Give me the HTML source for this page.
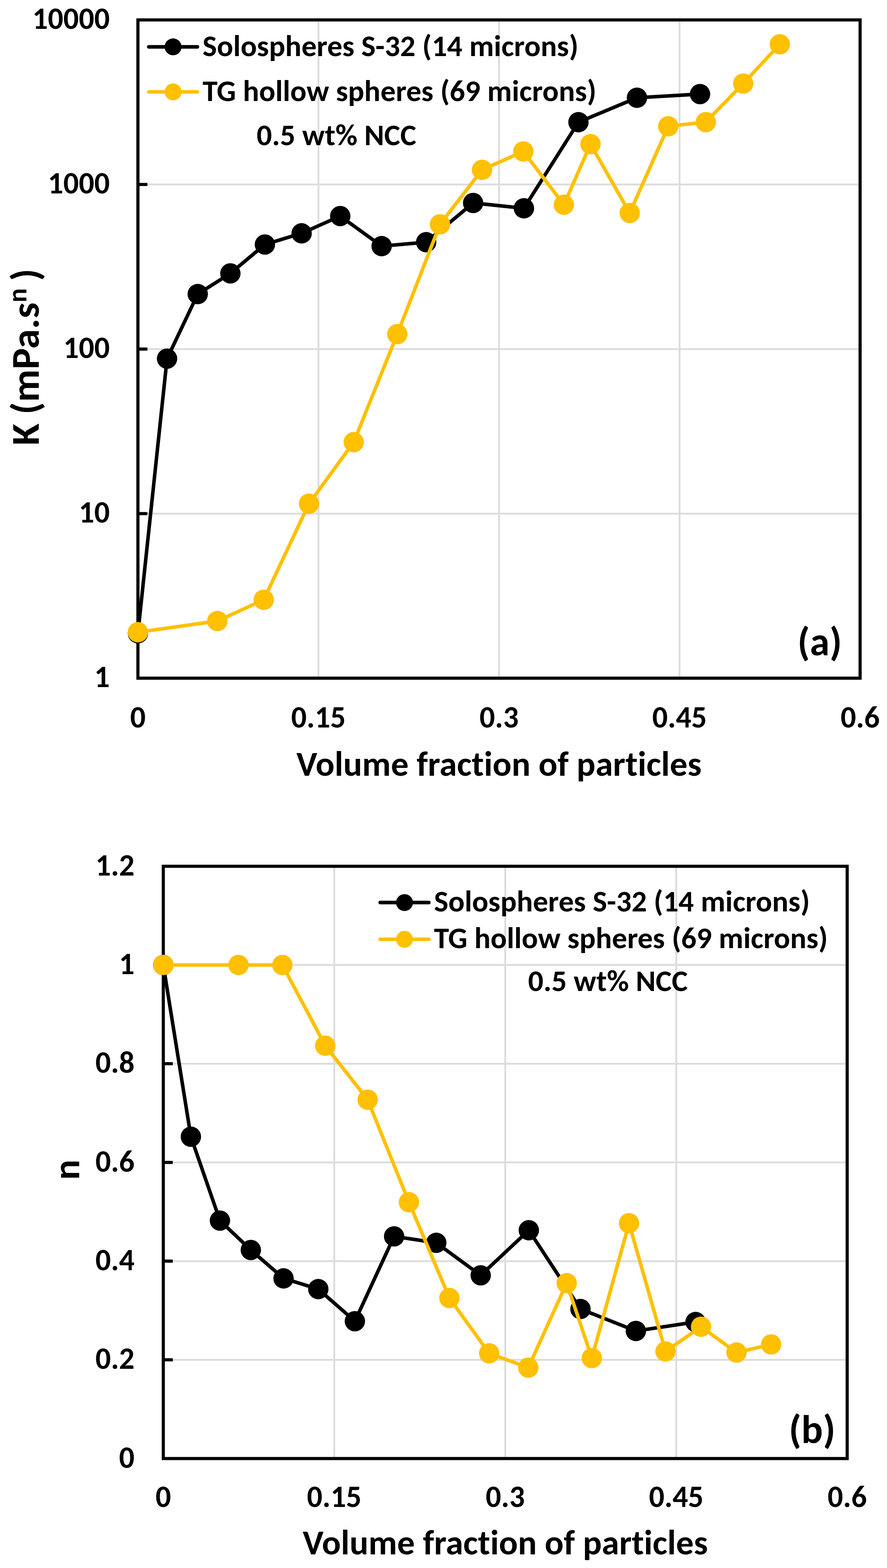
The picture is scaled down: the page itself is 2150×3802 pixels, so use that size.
<!DOCTYPE html>
<html><head><meta charset="utf-8"><title>K and n vs volume fraction</title>
<style>html,body{margin:0;padding:0;background:#fff;}body{width:2150px;height:3802px;overflow:hidden;}svg{display:block;}text{font-variant-ligatures:none;font-feature-settings:'liga' 0,'clig' 0;}</style>
</head><body>
<svg width="2150" height="3802" viewBox="0 0 2150 3802">
<rect width="2150" height="3802" fill="#fff"/>
<g font-family="Carlito, 'Liberation Sans', sans-serif" font-weight="bold" fill="#000">
<line x1="771.9" y1="48.3" x2="771.9" y2="1644.4" stroke="#DCDCDC" stroke-width="4.5"/>
<line x1="1209.6" y1="48.3" x2="1209.6" y2="1644.4" stroke="#DCDCDC" stroke-width="4.5"/>
<line x1="1647.2" y1="48.3" x2="1647.2" y2="1644.4" stroke="#DCDCDC" stroke-width="4.5"/>
<line x1="334.3" y1="447.3" x2="2084.8" y2="447.3" stroke="#DCDCDC" stroke-width="4.5"/>
<line x1="334.3" y1="846.4" x2="2084.8" y2="846.4" stroke="#DCDCDC" stroke-width="4.5"/>
<line x1="334.3" y1="1245.4" x2="2084.8" y2="1245.4" stroke="#DCDCDC" stroke-width="4.5"/>
<rect x="334.3" y="48.3" width="1750.5" height="1596.1" fill="none" stroke="#000" stroke-width="7.6"/>
<line x1="334.3" y1="447.3" x2="357.3" y2="447.3" stroke="#000" stroke-width="7.6"/>
<line x1="334.3" y1="846.4" x2="357.3" y2="846.4" stroke="#000" stroke-width="7.6"/>
<line x1="334.3" y1="1245.4" x2="357.3" y2="1245.4" stroke="#000" stroke-width="7.6"/>
<polyline points="334.3,1535.5 404.9,869.6 479.3,713.0 558.4,662.9 642.1,592.9 731.1,565.7 824.7,523.9 925.1,596.8 1033.0,587.3 1146.8,492.1 1269.9,505.0 1402.1,296.2 1543.9,237.0 1696.8,228.1" fill="none" stroke="#000" stroke-width="8.6" stroke-linejoin="round" stroke-linecap="round"/>
<circle cx="334.3" cy="1535.5" r="24.7" fill="#000"/>
<circle cx="404.9" cy="869.6" r="24.7" fill="#000"/>
<circle cx="479.3" cy="713.0" r="24.7" fill="#000"/>
<circle cx="558.4" cy="662.9" r="24.7" fill="#000"/>
<circle cx="642.1" cy="592.9" r="24.7" fill="#000"/>
<circle cx="731.1" cy="565.7" r="24.7" fill="#000"/>
<circle cx="824.7" cy="523.9" r="24.7" fill="#000"/>
<circle cx="925.1" cy="596.8" r="24.7" fill="#000"/>
<circle cx="1033.0" cy="587.3" r="24.7" fill="#000"/>
<circle cx="1146.8" cy="492.1" r="24.7" fill="#000"/>
<circle cx="1269.9" cy="505.0" r="24.7" fill="#000"/>
<circle cx="1402.1" cy="296.2" r="24.7" fill="#000"/>
<circle cx="1543.9" cy="237.0" r="24.7" fill="#000"/>
<circle cx="1696.8" cy="228.1" r="24.7" fill="#000"/>
<polyline points="334.3,1533.0 526.9,1505.8 639.2,1454.3 748.9,1221.2 857.4,1072.1 963.0,810.2 1066.6,543.9 1168.4,411.8 1268.5,367.2 1366.8,496.4 1431.3,349.5 1526.4,516.5 1619.8,306.2 1710.8,296.1 1801.5,202.6 1890.2,107.4" fill="none" stroke="#FFC000" stroke-width="8.6" stroke-linejoin="round" stroke-linecap="round"/>
<circle cx="334.3" cy="1533.0" r="24.7" fill="#FFC000"/>
<circle cx="526.9" cy="1505.8" r="24.7" fill="#FFC000"/>
<circle cx="639.2" cy="1454.3" r="24.7" fill="#FFC000"/>
<circle cx="748.9" cy="1221.2" r="24.7" fill="#FFC000"/>
<circle cx="857.4" cy="1072.1" r="24.7" fill="#FFC000"/>
<circle cx="963.0" cy="810.2" r="24.7" fill="#FFC000"/>
<circle cx="1066.6" cy="543.9" r="24.7" fill="#FFC000"/>
<circle cx="1168.4" cy="411.8" r="24.7" fill="#FFC000"/>
<circle cx="1268.5" cy="367.2" r="24.7" fill="#FFC000"/>
<circle cx="1366.8" cy="496.4" r="24.7" fill="#FFC000"/>
<circle cx="1431.3" cy="349.5" r="24.7" fill="#FFC000"/>
<circle cx="1526.4" cy="516.5" r="24.7" fill="#FFC000"/>
<circle cx="1619.8" cy="306.2" r="24.7" fill="#FFC000"/>
<circle cx="1710.8" cy="296.1" r="24.7" fill="#FFC000"/>
<circle cx="1801.5" cy="202.6" r="24.7" fill="#FFC000"/>
<circle cx="1890.2" cy="107.4" r="24.7" fill="#FFC000"/>
<line x1="360.5" y1="113.6" x2="478.5" y2="113.6" stroke="#000" stroke-width="8.6" stroke-linecap="round"/>
<circle cx="419.5" cy="113.6" r="20.5" fill="#000"/>
<line x1="360.5" y1="222.8" x2="478.5" y2="222.8" stroke="#FFC000" stroke-width="8.6" stroke-linecap="round"/>
<circle cx="419.5" cy="222.8" r="20.5" fill="#FFC000"/>
<text x="266.0" y="70.3" font-size="74" text-anchor="end" textLength="187.53" lengthAdjust="spacingAndGlyphs">10000</text>
<text x="266.0" y="469.3" font-size="74" text-anchor="end" textLength="150.03" lengthAdjust="spacingAndGlyphs">1000</text>
<text x="266.0" y="868.4" font-size="74" text-anchor="end" textLength="112.53" lengthAdjust="spacingAndGlyphs">100</text>
<text x="266.0" y="1267.4" font-size="74" text-anchor="end" textLength="75.02" lengthAdjust="spacingAndGlyphs">10</text>
<text x="266.0" y="1666.4" font-size="74" text-anchor="end" textLength="37.52" lengthAdjust="spacingAndGlyphs">1</text>
<text x="334.3" y="1763.5" font-size="74" text-anchor="middle" textLength="37.52" lengthAdjust="spacingAndGlyphs">0</text>
<text x="771.9" y="1763.5" font-size="74" text-anchor="middle" textLength="132.30" lengthAdjust="spacingAndGlyphs">0.15</text>
<text x="1209.6" y="1763.5" font-size="74" text-anchor="middle" textLength="94.78" lengthAdjust="spacingAndGlyphs">0.3</text>
<text x="1647.2" y="1763.5" font-size="74" text-anchor="middle" textLength="132.30" lengthAdjust="spacingAndGlyphs">0.45</text>
<text x="2084.8" y="1763.5" font-size="74" text-anchor="middle" textLength="94.78" lengthAdjust="spacingAndGlyphs">0.6</text>
<text x="491.0" y="135.5" font-size="73.4" text-anchor="start" textLength="911.02" lengthAdjust="spacingAndGlyphs">Solospheres S-32 (14 microns)</text>
<text x="491.0" y="244.6" font-size="73.4" text-anchor="start" textLength="954.69" lengthAdjust="spacingAndGlyphs">TG hollow spheres (69 microns)</text>
<text x="622.0" y="351.5" font-size="73.4" text-anchor="start" textLength="387.06" lengthAdjust="spacingAndGlyphs">0.5 wt% NCC</text>
<text x="1209.5" y="1881.0" font-size="85.5" text-anchor="middle" textLength="982.12" lengthAdjust="spacingAndGlyphs">Volume fraction of particles</text>
<text x="1933.0" y="1588.8" font-size="96.5" text-anchor="start" textLength="107.77" lengthAdjust="spacingAndGlyphs">(a)</text>
<g transform="translate(93.8,1080) rotate(-90)"><text x="0" y="0" font-size="96" textLength="346.75" lengthAdjust="spacingAndGlyphs">K (mPa.s</text><text x="346.75" y="-30" font-size="64" textLength="34.34" lengthAdjust="spacingAndGlyphs">n</text><text x="398.8" y="0" font-size="96" textLength="29.91" lengthAdjust="spacingAndGlyphs">)</text></g>
<line x1="810.2" y1="2100.5" x2="810.2" y2="3536.6" stroke="#DCDCDC" stroke-width="4.5"/>
<line x1="1224.7" y1="2100.5" x2="1224.7" y2="3536.6" stroke="#DCDCDC" stroke-width="4.5"/>
<line x1="1639.1" y1="2100.5" x2="1639.1" y2="3536.6" stroke="#DCDCDC" stroke-width="4.5"/>
<line x1="395.8" y1="2339.8" x2="2053.5" y2="2339.8" stroke="#DCDCDC" stroke-width="4.5"/>
<line x1="395.8" y1="2579.2" x2="2053.5" y2="2579.2" stroke="#DCDCDC" stroke-width="4.5"/>
<line x1="395.8" y1="2818.6" x2="2053.5" y2="2818.6" stroke="#DCDCDC" stroke-width="4.5"/>
<line x1="395.8" y1="3057.9" x2="2053.5" y2="3057.9" stroke="#DCDCDC" stroke-width="4.5"/>
<line x1="395.8" y1="3297.2" x2="2053.5" y2="3297.2" stroke="#DCDCDC" stroke-width="4.5"/>
<rect x="395.8" y="2100.5" width="1657.7" height="1436.1" fill="none" stroke="#000" stroke-width="7.6"/>
<line x1="395.8" y1="2339.8" x2="418.8" y2="2339.8" stroke="#000" stroke-width="7.6"/>
<line x1="395.8" y1="2579.2" x2="418.8" y2="2579.2" stroke="#000" stroke-width="7.6"/>
<line x1="395.8" y1="2818.6" x2="418.8" y2="2818.6" stroke="#000" stroke-width="7.6"/>
<line x1="395.8" y1="3057.9" x2="418.8" y2="3057.9" stroke="#000" stroke-width="7.6"/>
<line x1="395.8" y1="3297.2" x2="418.8" y2="3297.2" stroke="#000" stroke-width="7.6"/>
<polyline points="395.8,2339.8 462.7,2756.3 533.1,2959.6 608.0,3030.9 687.3,3099.7 771.5,3125.7 860.2,3203.6 955.3,2997.9 1057.5,3013.5 1165.2,3092.4 1281.8,2983.0 1407.0,3174.0 1541.3,3227.2 1686.0,3205.5" fill="none" stroke="#000" stroke-width="8.6" stroke-linejoin="round" stroke-linecap="round"/>
<circle cx="395.8" cy="2339.8" r="24.7" fill="#000"/>
<circle cx="462.7" cy="2756.3" r="24.7" fill="#000"/>
<circle cx="533.1" cy="2959.6" r="24.7" fill="#000"/>
<circle cx="608.0" cy="3030.9" r="24.7" fill="#000"/>
<circle cx="687.3" cy="3099.7" r="24.7" fill="#000"/>
<circle cx="771.5" cy="3125.7" r="24.7" fill="#000"/>
<circle cx="860.2" cy="3203.6" r="24.7" fill="#000"/>
<circle cx="955.3" cy="2997.9" r="24.7" fill="#000"/>
<circle cx="1057.5" cy="3013.5" r="24.7" fill="#000"/>
<circle cx="1165.2" cy="3092.4" r="24.7" fill="#000"/>
<circle cx="1281.8" cy="2983.0" r="24.7" fill="#000"/>
<circle cx="1407.0" cy="3174.0" r="24.7" fill="#000"/>
<circle cx="1541.3" cy="3227.2" r="24.7" fill="#000"/>
<circle cx="1686.0" cy="3205.5" r="24.7" fill="#000"/>
<polyline points="395.8,2339.8 578.1,2339.8 684.5,2339.8 788.4,2535.5 891.2,2666.5 991.2,2915.0 1089.3,3147.4 1185.7,3281.5 1280.5,3316.1 1373.6,3111.3 1434.6,3293.0 1524.7,2966.0 1613.1,3276.9 1699.3,3217.0 1785.2,3279.5 1869.2,3259.9" fill="none" stroke="#FFC000" stroke-width="8.6" stroke-linejoin="round" stroke-linecap="round"/>
<circle cx="395.8" cy="2339.8" r="24.7" fill="#FFC000"/>
<circle cx="578.1" cy="2339.8" r="24.7" fill="#FFC000"/>
<circle cx="684.5" cy="2339.8" r="24.7" fill="#FFC000"/>
<circle cx="788.4" cy="2535.5" r="24.7" fill="#FFC000"/>
<circle cx="891.2" cy="2666.5" r="24.7" fill="#FFC000"/>
<circle cx="991.2" cy="2915.0" r="24.7" fill="#FFC000"/>
<circle cx="1089.3" cy="3147.4" r="24.7" fill="#FFC000"/>
<circle cx="1185.7" cy="3281.5" r="24.7" fill="#FFC000"/>
<circle cx="1280.5" cy="3316.1" r="24.7" fill="#FFC000"/>
<circle cx="1373.6" cy="3111.3" r="24.7" fill="#FFC000"/>
<circle cx="1434.6" cy="3293.0" r="24.7" fill="#FFC000"/>
<circle cx="1524.7" cy="2966.0" r="24.7" fill="#FFC000"/>
<circle cx="1613.1" cy="3276.9" r="24.7" fill="#FFC000"/>
<circle cx="1699.3" cy="3217.0" r="24.7" fill="#FFC000"/>
<circle cx="1785.2" cy="3279.5" r="24.7" fill="#FFC000"/>
<circle cx="1869.2" cy="3259.9" r="24.7" fill="#FFC000"/>
<line x1="921.5" y1="2188.4" x2="1039.5" y2="2188.4" stroke="#000" stroke-width="8.6" stroke-linecap="round"/>
<circle cx="980.5" cy="2188.4" r="20.5" fill="#000"/>
<line x1="921.5" y1="2277.5" x2="1039.5" y2="2277.5" stroke="#FFC000" stroke-width="8.6" stroke-linecap="round"/>
<circle cx="980.5" cy="2277.5" r="20.5" fill="#FFC000"/>
<text x="326.0" y="2122.5" font-size="74" text-anchor="end" textLength="94.78" lengthAdjust="spacingAndGlyphs">1.2</text>
<text x="326.0" y="2361.8" font-size="74" text-anchor="end" textLength="37.52" lengthAdjust="spacingAndGlyphs">1</text>
<text x="326.0" y="2601.2" font-size="74" text-anchor="end" textLength="94.78" lengthAdjust="spacingAndGlyphs">0.8</text>
<text x="326.0" y="2840.6" font-size="74" text-anchor="end" textLength="94.78" lengthAdjust="spacingAndGlyphs">0.6</text>
<text x="326.0" y="3079.9" font-size="74" text-anchor="end" textLength="94.78" lengthAdjust="spacingAndGlyphs">0.4</text>
<text x="326.0" y="3319.2" font-size="74" text-anchor="end" textLength="94.78" lengthAdjust="spacingAndGlyphs">0.2</text>
<text x="326.0" y="3558.6" font-size="74" text-anchor="end" textLength="37.52" lengthAdjust="spacingAndGlyphs">0</text>
<text x="395.8" y="3654.0" font-size="74" text-anchor="middle" textLength="37.52" lengthAdjust="spacingAndGlyphs">0</text>
<text x="810.2" y="3654.0" font-size="74" text-anchor="middle" textLength="132.30" lengthAdjust="spacingAndGlyphs">0.15</text>
<text x="1224.7" y="3654.0" font-size="74" text-anchor="middle" textLength="94.78" lengthAdjust="spacingAndGlyphs">0.3</text>
<text x="1639.1" y="3654.0" font-size="74" text-anchor="middle" textLength="132.30" lengthAdjust="spacingAndGlyphs">0.45</text>
<text x="2053.5" y="3654.0" font-size="74" text-anchor="middle" textLength="94.78" lengthAdjust="spacingAndGlyphs">0.6</text>
<text x="1052.0" y="2210.0" font-size="73.4" text-anchor="start" textLength="911.02" lengthAdjust="spacingAndGlyphs">Solospheres S-32 (14 microns)</text>
<text x="1052.0" y="2299.2" font-size="73.4" text-anchor="start" textLength="954.69" lengthAdjust="spacingAndGlyphs">TG hollow spheres (69 microns)</text>
<text x="1280.0" y="2403.0" font-size="73.4" text-anchor="start" textLength="387.06" lengthAdjust="spacingAndGlyphs">0.5 wt% NCC</text>
<text x="1224.7" y="3768.6" font-size="85.5" text-anchor="middle" textLength="982.12" lengthAdjust="spacingAndGlyphs">Volume fraction of particles</text>
<text x="1912.0" y="3498.5" font-size="97.5" text-anchor="start" textLength="113.08" lengthAdjust="spacingAndGlyphs">(b)</text>
<text transform="translate(191.5,2861) rotate(-90)" font-size="92" textLength="49.38" lengthAdjust="spacingAndGlyphs">n</text>
</g></svg>
</body></html>
